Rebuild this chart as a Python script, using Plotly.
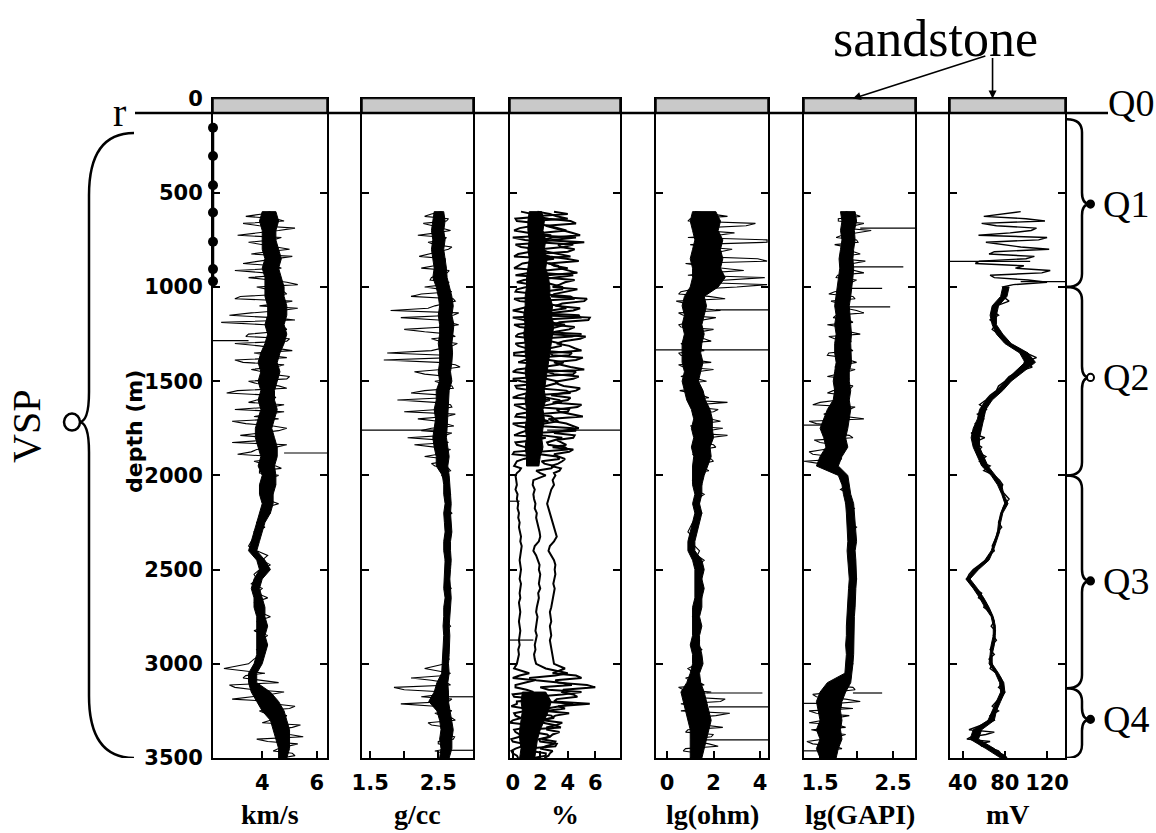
import plotly.graph_objects as go

W, H = 1156, 833

# ---------------- data ----------------
depth = list(range(600, 3501, 25))        # m, main samples
noisy_depth = [612.5 + 25 * k for k in range(56)] + [3062.5 + 25 * k for k in range(18)]  # extra samples in noisy intervals
sp_noisy_depth = [612.5 + 25 * k for k in range(16)] + [3312.5 + 25 * k for k in range(8)]
band_depth = list(range(600, 3501, 50))   # m, dense core of each log

vp = [4.3, 3.4, 4.8, 3.9, 4.6, 3.1, 4.4, 4.0, 5.0, 3.6, 4.5, 3.3, 4.7, 4.1, 3.5, 4.9, 3.8,
      4.8, 3.2, 5.1, 3.9, 4.7, 2.8, 5.2, 4.1, 4.9, 3.5, 5.0, 3.0,
      4.6, 3.7, 4.9, 3.3, 4.5, 4.0, 5.0, 3.5,
      4.6, 3.1, 4.4, 3.8, 4.8, 3.0, 4.2, 4.6, 3.4, 4.9, 3.9, 4.3, 2.9, 4.5, 3.6, 4.4,
      3.7, 4.5, 3.9, 4.6,
      4.0, 4.5, 3.9, 4.4, 4.1, 4.6, 4.0, 4.3,
      4.0, 3.8, 4.1, 3.7, 3.9, 3.6, 3.5,
      3.8, 4.2, 4.0,
      4.3, 3.9, 3.7, 3.8,
      3.6, 4.0, 3.8, 4.2, 3.7, 4.0, 3.9, 4.3, 3.8, 4.1, 3.7, 4.2,
      3.9, 4.2, 3.8, 4.0, 3.7, 3.5,
      2.6, 4.1, 3.3, 4.6, 3.0, 4.8, 3.6,
      4.4, 5.2, 3.9, 4.9, 4.3, 5.4, 4.5, 5.0, 3.8, 5.3, 4.6, 5.1, 4.7]
vp_extra = [4.0, 4.5, 3.3, 5.2, 3.8, 4.7, 3.5, 4.6, 4.2, 5.1, 3.9, 4.4, 3.0, 4.6, 4.3, 5.3,
            4.2, 4.9, 3.0, 4.6, 5.3, 3.6, 4.4, 2.5, 4.8, 4.5, 3.4, 4.9,
            3.9, 5.1, 4.2, 3.0, 4.8, 3.6, 4.3, 4.9,
            3.8, 4.9, 2.7, 4.5, 3.5, 4.3, 4.8, 3.7, 2.9, 4.4, 4.6, 3.2, 4.2, 4.9, 3.8, 3.1, 4.5, 4.0, 4.7, 3.9,
            3.4, 3.9, 2.8, 3.7, 4.3, 2.9, 4.4, 5.0, 4.1, 4.8, 4.0, 5.1, 4.6, 5.5, 4.2, 4.9, 4.4, 5.2]
vp_lo = [4.0, 3.9, 4.0, 4.0, 4.0, 4.1, 4.0, 4.1, 4.1,
         4.1, 4.2, 4.2, 4.1, 4.2, 4.1,
         3.95, 3.85, 3.95, 3.85, 3.95, 3.85, 3.95, 3.85, 3.75, 3.75, 3.85, 3.95, 3.85,
         4.0, 3.9, 3.9, 4.0, 3.9, 3.8, 3.7, 3.6, 3.5, 3.8, 3.9, 3.7, 3.6, 3.7, 3.7, 3.8, 3.8, 3.8, 3.8, 3.8, 3.7,
         3.5, 3.5, 3.6, 3.8, 4.0, 4.3, 4.4, 4.5, 4.6, 4.6]
vp_hi = [4.5, 4.6, 4.5, 4.5, 4.6, 4.7, 4.6, 4.7, 4.8,
         4.8, 4.9, 4.9, 4.8, 4.9, 4.8,
         4.65, 4.55, 4.65, 4.55, 4.45, 4.45, 4.55, 4.45, 4.35, 4.45, 4.55, 4.55, 4.45,
         4.5, 4.5, 4.4, 4.4, 4.3, 4.1, 4.0, 3.9, 3.8, 4.1, 4.3, 4.0, 3.9, 4.0, 4.1, 4.1, 4.2, 4.1, 4.2, 4.1, 4.0,
         3.8, 3.8, 4.3, 4.6, 4.8, 4.9, 5.0, 5.0, 5.0, 4.9]

rho = [2.55, 2.3, 2.62, 2.42, 2.68, 2.2, 2.58, 2.45, 2.65, 2.35, 2.6, 2.5, 2.25, 2.63, 2.4, 2.66, 2.3,
       2.7, 2.1, 2.75, 2.45, 1.8, 2.72, 2.5, 2.8, 2.0, 2.68, 2.4, 2.78,
       2.55, 1.75, 2.7, 2.5, 2.82, 2.15, 2.65, 2.45,
       2.7, 2.3, 2.62, 1.9, 2.68, 2.5, 2.75, 2.2, 2.6, 2.4, 2.7, 2.05, 2.65, 2.45, 2.58, 2.3,
       2.6, 2.45, 2.68, 2.55,
       2.6, 2.66, 2.62, 2.68, 2.6, 2.65, 2.63, 2.7, 2.61, 2.66, 2.62, 2.69, 2.6, 2.64, 2.67, 2.61,
       2.65, 2.6, 2.68, 2.62, 2.66, 2.6, 2.64, 2.69, 2.61, 2.65, 2.62, 2.67, 2.6, 2.64, 2.62, 2.68,
       2.6, 2.65, 2.61, 2.66, 2.63, 2.58, 2.66, 2.6,
       2.3, 2.68, 2.1, 2.62, 1.85, 2.6, 2.25,
       2.65, 2.45, 2.7, 2.55, 2.75, 2.4, 2.68, 2.6, 2.72, 2.5, 2.66, 2.58, 2.62]
rho_extra = [2.4, 2.65, 2.28, 2.55, 2.47, 2.62, 2.35, 2.7, 2.5, 2.22, 2.6, 2.44, 2.66, 2.52, 2.38, 2.6,
             2.55, 2.25, 2.72, 2.6, 2.35, 2.8, 1.95, 2.65, 2.58, 2.3, 2.75, 2.52,
             2.7, 2.4, 2.6, 1.7, 2.75, 2.55, 2.3, 2.7,
             2.55, 2.72, 2.1, 2.6, 2.45, 2.7, 2.0, 2.62, 2.5, 2.73, 2.25, 2.6, 2.55, 2.15, 2.68, 2.5, 2.62, 2.4, 2.65, 2.58,
             2.6, 2.4, 2.68, 2.0, 2.55, 2.7, 1.95, 2.6, 2.45, 2.7, 2.35, 2.66, 2.55, 2.74, 2.5, 2.68, 2.45, 2.62]
rho_lo = [2.44, 2.42, 2.40, 2.42, 2.40, 2.42, 2.44, 2.42, 2.47,
          2.50, 2.52, 2.50, 2.52, 2.52, 2.50, 2.52, 2.52, 2.50, 2.52,
          2.47, 2.47, 2.44, 2.46, 2.44, 2.42, 2.44, 2.47, 2.47,
          2.56, 2.58, 2.58, 2.60, 2.58, 2.59, 2.60, 2.58, 2.58, 2.60, 2.59, 2.58, 2.58, 2.60, 2.58, 2.58,
          2.57, 2.58, 2.57, 2.56, 2.55, 2.55,
          2.48, 2.44, 2.36, 2.48, 2.52, 2.54, 2.52, 2.54, 2.52]
rho_hi = [2.58, 2.60, 2.58, 2.60, 2.58, 2.60, 2.62, 2.63, 2.66,
          2.70, 2.72, 2.70, 2.73, 2.72, 2.70, 2.71, 2.70, 2.68, 2.70,
          2.66, 2.66, 2.64, 2.64, 2.63, 2.62, 2.64, 2.66, 2.64,
          2.66, 2.68, 2.68, 2.69, 2.68, 2.69, 2.70, 2.68, 2.68, 2.69, 2.68, 2.67, 2.68, 2.69, 2.68, 2.67,
          2.66, 2.67, 2.67, 2.66, 2.65, 2.66,
          2.64, 2.65, 2.65, 2.67, 2.70, 2.72, 2.70, 2.70, 2.66]

phi_low = [0.6, 2.2, 0.3, 1.5, 0.1, 2.8, 0.9, 0.2, 1.8, 0.4, 3.0, 0.7, 0.1, 1.2, 2.4, 0.3, 1.0,
           0.2, 2.6, 0.5, 1.4, 0.0, 3.2, 0.8, 0.1, 2.0, 0.4, 1.6, 0.2,
           1.1, 0.1, 2.5, 0.4, 1.8, 0.0, 2.2, 0.6,
           0.2, 1.5, 0.4, 2.7, 0.1, 1.0, 0.3, 2.0, 0.0, 1.3, 0.5, 2.4, 0.2, 0.9, 0.1, 1.6,
           0.3, 0.1, 0.5, 0.2,
           0.25, 0.3, 0.2, 0.35, 0.3, 0.4, 0.35, 0.45, 0.4, 0.5, 0.45, 0.55, 0.6, 0.55, 0.65, 0.6,
           0.55, 0.5, 0.55, 0.6, 0.55, 0.5, 0.6, 0.55, 0.5, 0.55, 0.45, 0.5, 0.55, 0.5, 0.45, 0.5,
           0.55, 0.5, 0.45, 0.5, 0.4, 0.45, 0.35, 0.3,
           0.1, 1.2, 0.0, 0.8, 0.2, 1.5, 0.1,
           0.3, -0.1, 0.9, 0.2, 0.0, 1.3, 0.1, 0.5, -0.1, 0.8, 0.2, 0.0, 0.4]
phi_low_extra = [1.4, 0.2, 2.0, 0.5, 1.1, 0.0, 2.5, 0.6, 1.3, 0.1, 1.9, 0.4, 2.2, 0.2, 0.8, 1.5,
                 0.3, 1.7, 0.1, 2.4, 0.6, 1.0, 0.0, 2.8, 0.5, 1.2, 0.2, 2.1,
                 0.4, 1.6, 0.1, 0.9, 2.3, 0.3, 1.4, 0.0,
                 1.8, 0.3, 1.1, 0.0, 2.0, 0.5, 1.4, 0.2, 2.6, 0.4, 1.0, 0.1, 1.7, 0.3, 2.2, 0.0, 0.8, 0.2, 0.6, 0.3,
                 0.5, 1.6, 0.2, 1.0, 0.0, 2.1, 0.3, 0.9, 0.1, 0.6, -0.2, 1.0, 0.2, 0.5, 0.0, 0.7, -0.1, 0.3]
phi_mid = [1.8, 3.2, 1.2, 2.6, 3.9, 1.5, 2.9, 4.4, 2.0, 3.4, 1.3, 2.7, 4.0, 1.9, 3.1, 2.3, 3.6,
           2.1, 4.2, 1.4, 3.3, 2.5, 4.8, 1.7, 3.8, 2.6, 5.0, 1.9, 3.5,
           2.8, 4.3, 1.6, 3.7, 2.2, 4.6, 1.8, 3.2,
           2.4, 3.9, 1.5, 3.4, 2.7, 4.1, 1.8, 3.0, 2.3, 4.4, 1.6, 3.6, 2.5, 3.8, 1.9, 3.2,
           2.1, 3.0, 1.7, 2.4,
           1.5, 1.45, 1.6, 1.5, 1.55, 1.65, 1.6, 1.75, 1.7, 1.8, 1.9, 1.95, 2.0, 1.9, 1.6, 1.5,
           1.7, 1.85, 1.95, 1.9, 2.0, 1.95, 1.9, 2.0, 1.85, 1.9, 1.8, 1.75, 1.7, 1.8, 1.75, 1.7,
           1.65, 1.75, 1.7, 1.6, 1.65, 1.55, 1.6, 1.7,
           2.4, 4.0, 1.2, 3.5, 2.0, 5.0, 1.6,
           2.2, 3.4, 1.0, 2.8, 1.7, 3.0, 0.9, 2.5, 1.9, 3.2, 1.1, 2.4, 1.5]
phi_mid_extra = [2.7, 4.0, 1.6, 3.3, 2.2, 4.6, 1.8, 3.7, 2.5, 4.2, 1.4, 3.0, 2.4, 4.4, 1.7, 2.9,
                 3.6, 1.9, 4.5, 2.3, 3.9, 1.5, 4.9, 2.7, 3.2, 1.8, 4.3, 2.6,
                 3.5, 1.9, 4.1, 2.6, 3.3, 1.5, 4.4, 2.4,
                 3.1, 1.8, 4.2, 2.5, 3.5, 1.7, 4.0, 2.8, 3.3, 1.9, 4.6, 2.2, 3.0, 2.6, 4.0, 2.0, 3.4, 2.3, 2.8, 2.0,
                 3.1, 1.7, 4.3, 2.6, 3.6, 1.9, 4.4, 2.5, 1.6, 3.0, 2.2, 3.5, 1.4, 2.7, 2.0, 3.1, 1.3, 2.4]
phi_high = [3.0, 1.6, 4.2, 2.4, 3.6, 4.9, 2.1, 3.3, 4.5, 1.8, 3.9, 2.6, 3.4, 4.7, 2.2, 3.8, 2.9,
            3.9, 2.8, 5.2, 3.1, 4.4, 2.3, 5.5, 3.0, 4.1, 2.6, 4.9, 3.2,
            4.5, 2.7, 5.1, 3.0, 4.2, 2.5, 4.8, 3.3,
            3.7, 4.6, 2.8, 4.0, 5.0, 3.2, 4.3, 2.6, 3.9, 4.8, 3.0, 4.4, 3.5, 2.9, 4.1, 3.3,
            3.6, 2.8, 3.4, 3.1,
            2.9, 3.0, 2.8, 2.7, 2.6, 2.5, 2.6, 2.7, 2.8, 2.9, 3.0, 3.1, 3.2, 3.0, 2.7, 2.6,
            2.8, 3.0, 3.1, 3.05, 3.1, 3.0, 2.95, 3.05, 3.0, 2.9, 2.85, 2.8, 2.7, 2.75, 2.8, 2.7,
            2.75, 2.8, 2.7, 2.75, 2.8, 2.85, 2.9, 3.0,
            3.8, 2.9, 5.0, 3.3, 6.0, 3.6, 4.7,
            3.0, 3.3, 2.4, 3.1, 2.2, 3.2, 2.5, 2.9, 2.1, 3.0, 2.0, 2.7, 2.3]
phi_high_extra = [4.0, 2.6, 4.6, 3.1, 4.3, 2.9, 5.2, 3.5, 4.0, 2.7, 4.8, 3.3, 4.1, 2.5, 4.5, 3.4,
                  4.7, 3.0, 5.4, 3.6, 4.9, 2.8, 5.6, 3.4, 4.5, 3.1, 5.3, 3.7,
                  4.1, 5.0, 2.9, 4.6, 3.5, 5.2, 3.0, 4.4,
                  3.2, 4.9, 3.6, 4.2, 2.9, 4.7, 3.4, 5.1, 3.0, 4.3, 3.7, 4.5, 3.2, 3.9, 4.4, 3.0, 3.8, 3.3, 3.5, 3.0,
                  4.6, 3.1, 5.4, 3.7, 4.4, 3.2, 5.6, 3.8, 4.1, 2.8, 3.6, 2.5, 3.4, 2.7, 3.1, 2.4, 2.9, 2.6]
phi_band_lo = [1.2, 1.1, 1.1, 1.2, 1.1, 1.2, 1.1, 1.0, 1.0,
               0.9, 0.9, 0.8, 0.9, 0.8, 0.9, 0.9, 1.0, 0.9, 1.0,
               1.0, 0.9, 1.0, 1.0, 0.9, 1.0, 0.9, 1.0, 1.0,
               None, None, None, None, None, None, None, None, None, None, None,
               None, None, None, None, None, None, None, None, None, None, None, None,
               0.7, 0.6, 0.7, 0.6, 0.5, 0.5, 0.6, 0.5, 0.6]
phi_band_hi = [2.1, 2.3, 2.2, 2.4, 2.3, 2.5, 2.4, 2.6, 2.7,
               2.7, 2.9, 2.8, 3.0, 2.9, 2.8, 2.7, 2.6, 2.5, 2.4,
               2.3, 2.4, 2.2, 2.3, 2.2, 2.1, 2.2, 2.0, 1.9,
               None, None, None, None, None, None, None, None, None, None, None,
               None, None, None, None, None, None, None, None, None, None, None, None,
               2.4, 2.8, 2.6, 2.3, 2.0, 1.8, 1.7, 1.6, 1.5]

res = [1.2, 2.6, 0.9, 3.4, 1.5, 2.2, 4.3, 1.0, 2.8, 1.4, 3.9, 0.8, 2.4, 1.7, 4.2, 1.1, 3.0,
       0.6, 1.8, 0.4, 1.3, 2.3, 0.7, 1.5, 0.5, 2.0, 0.9, 1.6, 0.6,
       1.4, 0.5, 1.1, 1.9, 0.7, 1.3, 0.6, 1.7, 1.0, 0.55, 1.5, 0.9,
       1.3, 2.2, 1.1, 1.9, 1.5, 2.4, 1.2, 1.8, 1.4, 2.1, 1.6,
       1.2, 2.0, 1.4, 1.8, 1.3,
       1.1, 1.5, 1.2, 1.6, 1.3,
       1.4, 1.2, 1.5, 1.3, 1.1,
       1.0, 0.9, 1.1, 1.0,
       1.2, 1.4, 1.3, 1.6, 1.35, 1.45, 1.3, 1.5, 1.35, 1.4, 1.25, 1.5,
       1.3, 1.2, 1.4, 1.1, 1.3, 1.25, 1.35, 1.2, 1.4, 1.3, 1.5, 1.2,
       1.1, 1.3, 0.9, 1.2, 0.8, 1.4,
       0.5, 1.9, 0.7, 2.3, 1.0, 0.6, 2.1, 1.2,
       1.6, 0.9, 2.0, 1.1, 1.8, 0.8, 1.4, 1.0]
res_extra = [2.0, 1.0, 3.8, 1.3, 2.9, 0.9, 4.3, 1.6, 2.3, 1.1, 4.3, 1.4, 3.3, 0.9, 2.7, 4.3,
             1.1, 0.5, 2.5, 0.8, 1.4, 0.5, 2.1, 1.0, 0.6, 1.5, 0.9, 1.9,
             0.8, 1.6, 0.6, 1.2, 0.5, 2.0, 0.9, 1.3,
             0.7, 1.4, 1.0, 1.8, 2.6, 1.2, 2.0, 1.4, 2.3, 1.0, 1.7, 2.6, 1.3, 2.0, 1.5, 1.1, 1.9, 1.5, 1.6, 1.2,
             1.3, 1.0, 1.6, 0.7, 1.2, 2.5, 0.6, 1.6, 2.7, 0.9, 1.5, 2.4, 0.8, 1.9, 1.3, 2.2, 0.7, 1.5]
res_lo = [1.1, 1.0, 1.1, 1.2, 1.1, 1.0, 1.1, 1.1, 1.0,
          0.75, 0.65, 0.75, 0.65, 0.75, 0.65,
          0.65, 0.65, 0.75, 0.65, 0.75, 0.85,
          1.05, 1.15, 1.05, 1.15, 1.05, 1.15,
          1.1, 1.1,
          1.1, 1.2, 1.1, 1.2, 1.1, 1.0,
          0.9, 0.9,
          1.1, 1.2, 1.2, 1.2, 1.2, 1.1,
          1.1, 1.1, 1.1, 1.0, 1.1, 1.1,
          1.0, 0.85, 0.6,
          0.7, 0.8, 0.9, 1.0, 1.0, 1.0, 1.0]
res_hi = [2.1, 2.3, 2.2, 2.4, 2.3, 2.4, 2.3, 2.5, 2.2,
          1.6, 1.7, 1.6, 1.5, 1.6, 1.5,
          1.45, 1.55, 1.45, 1.35, 1.55, 1.65,
          1.85, 1.95, 1.95, 2.0, 1.85, 1.9,
          1.75, 1.6,
          1.5, 1.5, 1.4, 1.5, 1.4, 1.3,
          1.2, 1.2,
          1.5, 1.6, 1.5, 1.6, 1.5, 1.5,
          1.4, 1.5, 1.4, 1.4, 1.5, 1.55,
          1.4, 1.45, 1.6,
          1.7, 1.8, 1.9, 1.8, 1.7, 1.6, 1.5]

gr = [1.85, 2.05, 1.75, 1.95, 2.2, 1.8, 2.0, 1.7, 1.9, 2.05, 1.78, 1.95, 1.85, 2.1, 1.72, 1.92, 1.8,
      1.7, 1.95, 1.65, 1.88, 2.0, 1.72, 1.9, 1.6, 1.85, 2.05, 1.7, 1.8,
      1.9, 1.62, 1.85, 2.0, 1.7, 1.88, 1.6, 1.82, 1.95, 1.68, 1.85, 1.75,
      1.4, 1.9, 1.55, 2.1, 1.45, 1.8, 1.6, 1.95,
      1.5, 1.75, 1.35, 1.65, 1.28, 1.6, 1.7, 1.85,
      1.8, 1.88, 1.78, 1.9,
      1.92, 1.85, 1.97, 1.9, 1.95, 1.88, 2.0, 1.93, 1.97, 1.9, 1.95, 1.92,
      1.95, 1.98, 1.92, 1.97, 1.94, 2.0, 1.93, 1.96, 1.92, 1.98, 1.95, 1.93,
      1.9, 1.94, 1.88, 1.93, 1.9, 1.95, 1.89, 1.92, 1.87, 1.93, 1.9, 1.95, 1.9, 1.88, 1.92,
      1.8, 1.95, 1.7,
      1.45, 2.05, 1.6, 1.35, 1.9, 1.5, 1.75, 1.38, 1.85, 1.55, 1.4, 1.8, 1.5, 1.65]
gr_extra = [1.95, 1.75, 2.1, 1.82, 1.98, 1.72, 2.02, 1.85, 1.96, 1.78, 2.12, 1.8, 1.97, 1.74, 2.0, 1.86,
            1.92, 1.62, 1.98, 1.75, 1.85, 2.1, 1.68, 1.95, 1.78, 1.9, 1.62, 1.93,
            1.75, 1.95, 1.6, 1.9, 1.82, 1.98, 1.72, 1.9,
            1.7, 1.92, 1.6, 1.85, 1.5, 1.98, 1.65, 1.85, 1.35, 1.75, 1.6, 1.9, 1.42, 1.7, 1.55, 1.4, 1.8, 1.5, 1.72, 1.8,
            1.92, 1.85, 1.6, 1.98, 1.4, 1.85, 1.65, 1.95, 1.45, 1.7, 1.35, 1.85, 1.55, 1.75, 1.32, 1.7, 1.5, 1.6]
gr_lo = [1.78, 1.80, 1.78, 1.80, 1.78, 1.76, 1.77, 1.75, 1.74,
         1.72, 1.70, 1.72, 1.70, 1.72, 1.70,
         1.70, 1.72, 1.70, 1.68, 1.70, 1.68,
         1.60, 1.55, 1.50, 1.55, 1.58, 1.50, 1.45,
         1.75, 1.80, 1.82,
         1.85, 1.86, 1.87, 1.88, 1.88, 1.87, 1.88, 1.90, 1.90, 1.89, 1.88, 1.88, 1.87, 1.86, 1.86, 1.85,
         1.86, 1.85, 1.84,
         1.60, 1.50, 1.45, 1.48, 1.50, 1.45, 1.50, 1.45, 1.50]
gr_hi = [1.98, 2.00, 1.97, 1.98, 1.96, 1.95, 1.96, 1.95, 1.94,
         1.92, 1.90, 1.92, 1.92, 1.93, 1.92,
         1.92, 1.93, 1.90, 1.90, 1.92, 1.90,
         1.92, 1.90, 1.88, 1.85, 1.88, 1.80, 1.75,
         1.88, 1.90, 1.92,
         1.96, 1.97, 1.98, 1.99, 2.00, 1.98, 1.99, 2.00, 2.00, 1.99, 1.98, 1.98, 1.97, 1.96, 1.96, 1.96,
         1.96, 1.95, 1.94,
         1.92, 1.85, 1.80, 1.78, 1.80, 1.78, 1.80, 1.75, 1.72]

sp = [95, 60, 118, 72, 105, 55, 112, 80, 122, 65, 100, 52, 90, 115, 70, 120, 78,
      82, 78, 84,
      72, 68, 74, 66, 71, 68,
      74, 78, 84, 92,
      100, 110, 98, 106,
      92, 84, 80, 74, 72, 66,
      62, 56, 63, 54, 60, 52,
      57, 48, 61, 51, 58, 54,
      62, 56, 66, 60, 70,
      75, 78, 76, 80,
      84, 80, 78, 77,
      76, 74, 77, 73, 72, 70,
      68, 70, 65, 62,
      56, 50, 46, 44, 48,
      52, 58, 55, 62, 60, 66,
      68, 70, 67, 71, 69, 72,
      68, 66, 70, 65, 68, 66,
      72, 76, 78, 74, 80, 77,
      72, 68, 74, 66, 70,
      58, 46, 62, 44, 56,
      68, 76, 82]
sp_extra = [75, 100, 58, 110, 85, 120, 62, 95, 70, 108, 56, 98, 123, 66, 102, 88,
            64, 50, 70, 48, 66, 58, 74, 80]
sp_lo = [None, None, None, None, None, None, None, None,
         78, 76, 68, 66, 68, 72, 80, 94, 99, 89, 80, 72, 62, 56, 54, 50, 48, 50, 54, 58,
         67, 73, 77, 80, 76, 74, 73, 70, 67, 61, 51, 43, 50, 56, 61, 67, 69, 69, 67, 66, 65,
         71, 75, 76, 72, 68, 64, 50, 47, 62, 76]
sp_hi = [None, None, None, None, None, None, None, None,
         84, 82, 74, 72, 72, 78, 86, 102, 109, 97, 86, 78, 68, 62, 60, 58, 56, 56, 60, 64,
         71, 77, 79, 83, 78, 76, 75, 72, 69, 65, 55, 47, 54, 60, 65, 69, 71, 71, 70, 68, 68,
         74, 79, 80, 76, 72, 70, 58, 55, 70, 82]

# isolated horizontal spikes: depth, from value, to value
vp_spikes = ([1285, 1881], [2.2, 4.8], [3.5, 6.37])
rho_spikes = ([1760, 3175, 3459], [1.38, 2.6, 2.55], [2.55, 3.01, 3.01])
phi_spikes = ([1760, 2137, 2874], [2.5, -0.2, -0.2], [7.8, 0.5, 1.5])
res_spikes = ([1121, 1334, 3155, 3229, 3404], [2.1, -0.47, 1.7, 1.8, 1.6], [4.34, 4.34, 4.1, 4.34, 4.34])
gr_spikes = ([688, 893, 1007, 1105, 1733, 3155, 3210, 3462], [2.05, 1.95, 1.9, 1.9, 1.28, 1.95, 1.28, 1.28],
             [2.8, 2.64, 2.35, 2.46, 1.6, 2.35, 1.5, 1.55])
sp_spikes = ([864, 972], [28, 95], [104, 137])

vsp_depth = [155, 305, 460, 605, 760, 905, 970]
sand_top, sand_base = 0, 76      # sandstone layer / reference level r
q_bounds = [110, 1000, 2000, 3130, 3500]
q_tips = [560, 1480, 2560, 3295]
q_names = ["Q1", "Q2", "Q3", "Q4"]
depth_ticks = list(range(0, 3501, 500))


def merged(vals, extra, extra_depth):
    """combine main and extra samples of one log in depth order"""
    pts = sorted(zip(depth + list(extra_depth), list(vals) + list(extra)))
    return [p[1] for p in pts], [p[0] for p in pts]


panels = [
    dict(curves=[merged(vp, vp_extra, noisy_depth)], band=(vp_lo, vp_hi), spikes=vp_spikes,
         rng=[2.2, 6.37], tv=[4, 6], tt=["4", "6"], unit="km/s", px=(213, 327), lw=1.1),
    dict(curves=[merged(rho, rho_extra, noisy_depth)], band=(rho_lo, rho_hi), spikes=rho_spikes,
         rng=[1.38, 3.01], tv=[1.5, 2, 2.5], tt=["1.5", "", "2.5"], unit="g/cc", px=(362, 473), lw=1.1),
    dict(curves=[merged(phi_low, phi_low_extra, noisy_depth), merged(phi_mid, phi_mid_extra, noisy_depth),
                 merged(phi_high, phi_high_extra, noisy_depth)],
         band=(phi_band_lo, phi_band_hi), spikes=phi_spikes,
         rng=[-0.2, 7.8], tv=[0, 2, 4, 6], tt=["0", "2", "4", "6"], unit="%", px=(510, 620), lw=2.0),
    dict(curves=[merged(res, res_extra, noisy_depth)], band=(res_lo, res_hi), spikes=res_spikes,
         rng=[-0.47, 4.34], tv=[0, 2, 4], tt=["0", "2", "4"], unit="lg(ohm)", px=(656, 768), lw=1.1),
    dict(curves=[merged(gr, gr_extra, noisy_depth)], band=(gr_lo, gr_hi), spikes=gr_spikes,
         rng=[1.28, 2.8], tv=[1.5, 2, 2.5], tt=["1.5", "", "2.5"], unit="lg(GAPI)", px=(804, 915), lw=1.1),
    dict(curves=[merged(sp, sp_extra, sp_noisy_depth)], band=(sp_lo, sp_hi), spikes=sp_spikes,
         rng=[28, 137], tv=[40, 80, 120], tt=["40", "80", "120"], unit="mV", px=(950, 1065), lw=1.4),
]

# ---------------- figure ----------------
PLOT_TOP, PLOT_BOT = 98.6, 758
def fx(px):
    return px / W
def fy(py):
    return 1 - py / H

SANS = "DejaVu Sans"
SERIF = "Liberation Serif"


def band_polygons(lo, hi, d):
    """closed outlines of every run of depths where the core band is defined"""
    xs, ys = [], []
    run = []
    for a, b, z in list(zip(lo, hi, d)) + [(None, None, None)]:
        if a is None:
            if len(run) > 1:
                xs += [r[0] for r in run] + [r[1] for r in run[::-1]] + [run[0][0], None]
                ys += [r[2] for r in run] + [r[2] for r in run[::-1]] + [run[0][2], None]
            run = []
        else:
            run.append((a, b, z))
    return xs, ys


fig = go.Figure()
layout = dict(width=W, height=H, margin=dict(l=0, r=0, t=0, b=0, autoexpand=False),
              paper_bgcolor="white", plot_bgcolor="white", showlegend=False)
shapes, annots = [], []

for i, p in enumerate(panels):
    n = "" if i == 0 else str(i + 1)
    xa, ya = "x" + n, "y" + n
    bx, by = band_polygons(p["band"][0], p["band"][1], band_depth)
    fig.add_trace(go.Scatter(x=bx, y=by, mode="lines", fill="toself", fillcolor="black",
                             xaxis=xa, yaxis=ya, line=dict(color="black", width=1), hoverinfo="skip"))
    for cx, cy in p["curves"]:
        fig.add_trace(go.Scatter(x=cx, y=cy, mode="lines", xaxis=xa, yaxis=ya,
                                 line=dict(color="black", width=p["lw"]), hoverinfo="skip"))
    sd, sf, st = p["spikes"]
    xs, ys = [], []
    for d, a, b in zip(sd, sf, st):
        xs += [a, b, None]
        ys += [d, d, None]
    fig.add_trace(go.Scatter(x=xs, y=ys, mode="lines", xaxis=xa, yaxis=ya,
                             line=dict(color="black", width=1.2), hoverinfo="skip"))
    layout["xaxis" + n] = dict(domain=[fx(p["px"][0]), fx(p["px"][1])], range=p["rng"], anchor=ya,
                               automargin=False,
                               showgrid=False, zeroline=False, showline=True, linecolor="black", linewidth=2,
                               mirror=True, ticks="inside", ticklen=7, tickwidth=1.5, tickcolor="black",
                               tickvals=p["tv"], ticktext=p["tt"], ticklabelstandoff=5,
                               tickfont=dict(family=SANS, size=21, color="black", weight="bold"))
    layout["yaxis" + n] = dict(domain=[fy(PLOT_BOT), fy(PLOT_TOP)], range=[3500, 0], anchor=xa,
                               automargin=False,
                               showgrid=False, zeroline=False, showline=True, linecolor="black", linewidth=2,
                               mirror="ticks", ticks="inside", ticklen=7, tickwidth=1.5, tickcolor="black",
                               tickvals=depth_ticks, showticklabels=(i == 0), ticklabelstandoff=4,
                               tickfont=dict(family=SANS, size=21, color="black", weight="bold"))
    if i > 0:
        layout["yaxis" + n]["matches"] = "y"
    # sandstone bar
    shapes.append(dict(type="rect", xref=xa + " domain", yref="y", x0=0, x1=1, y0=sand_top, y1=sand_base,
                       fillcolor="#c9c9c9", line=dict(color="black", width=1.5), layer="above"))
    annots.append(dict(text=p["unit"], xref=xa + " domain", x=0.5, yref="paper", y=fy(814),
                       showarrow=False, xanchor="center", yanchor="middle",
                       font=dict(family=SERIF, size=28, color="black", weight="bold")))

# VSP receivers on the left edge of the first track
fig.add_trace(go.Scatter(x=[panels[0]["rng"][0]] * len(vsp_depth), y=vsp_depth, mode="lines+markers",
                         xaxis="x", yaxis="y", cliponaxis=False,
                         line=dict(color="black", width=2.5),
                         marker=dict(color="black", size=10), hoverinfo="skip"))

# reference line r
shapes.append(dict(type="line", xref="paper", yref="y", x0=fx(135), x1=fx(1108), y0=sand_base, y1=sand_base,
                   line=dict(color="black", width=2.5), layer="above"))


def brace(x_end, x_body, x_tip, d0, d1, dt, r_end, r_tip):
    return (f"M {x_end},{d0} Q {x_body},{d0} {x_body},{d0 + r_end} "
            f"L {x_body},{dt - r_tip} Q {x_body},{dt} {x_tip},{dt} "
            f"Q {x_body},{dt} {x_body},{dt + r_tip} "
            f"L {x_body},{d1 - r_end} Q {x_body},{d1} {x_end},{d1}")


# Q braces on the right
for k in range(4):
    shapes.append(dict(type="path", xref="paper", yref="y",
                       path=brace(fx(1067), fx(1082), fx(1090), q_bounds[k], q_bounds[k + 1], q_tips[k], 70, 60),
                       line=dict(color="black", width=2.5)))
    filled = (k != 1)
    shapes.append(dict(type="circle", xref="paper", yref="y", x0=fx(1087), x1=fx(1094),
                       y0=q_tips[k] - 19, y1=q_tips[k] + 19,
                       fillcolor="black" if filled else "white", line=dict(color="black", width=2)))
    annots.append(dict(text=q_names[k], xref="paper", yref="y", x=fx(1101), y=q_tips[k],
                       xanchor="left", yanchor="middle", showarrow=False,
                       font=dict(family=SERIF, size=38, color="black")))
annots.append(dict(text="Q0", xref="paper", yref="y", x=fx(1106), y=sand_base - 50,
                   xanchor="left", yanchor="middle", showarrow=False,
                   font=dict(family=SERIF, size=38, color="black")))

# VSP brace on the left
shapes.append(dict(type="path", xref="paper", yref="y",
                   path=brace(fx(134), fx(89), fx(79), 183, 3500, 1717, 330, 160),
                   line=dict(color="black", width=2.5)))
shapes.append(dict(type="circle", xref="paper", yref="y", x0=fx(64), x1=fx(80), y0=1672, y1=1762,
                   line=dict(color="black", width=2.5)))
annots.append(dict(text="VSP", xref="paper", yref="paper", x=fx(27), y=fy(427), textangle=-90,
                   showarrow=False, xanchor="center", yanchor="middle",
                   font=dict(family=SERIF, size=40, color="black")))
annots.append(dict(text="depth (m)", xref="paper", yref="paper", x=fx(134), y=fy(432), textangle=-90,
                   showarrow=False, xanchor="center", yanchor="middle",
                   font=dict(family=SANS, size=22, color="black", weight="bold")))
annots.append(dict(text="r", xref="paper", yref="y", x=fx(119), y=sand_base, showarrow=False,
                   xanchor="center", yanchor="middle", font=dict(family=SERIF, size=40, color="black")))

# sandstone label and arrows
annots.append(dict(text="sandstone", xref="paper", yref="paper", x=fx(935), y=fy(38), showarrow=False,
                   xanchor="center", yanchor="middle", font=dict(family=SERIF, size=52, color="black")))
annots.append(dict(text="", xref="x5 domain", yref="y", x=0.44, y=sand_top, ax=134, ay=-43,
                   showarrow=True, arrowhead=2, arrowsize=1, arrowwidth=1.6, arrowcolor="black"))
annots.append(dict(text="", xref="x6 domain", yref="y", x=0.37, y=sand_top, ax=0, ay=-42,
                   showarrow=True, arrowhead=2, arrowsize=1, arrowwidth=1.6, arrowcolor="black"))

layout["shapes"] = shapes
layout["annotations"] = annots
fig.update_layout(**layout)
fig.write_html("out.html")
